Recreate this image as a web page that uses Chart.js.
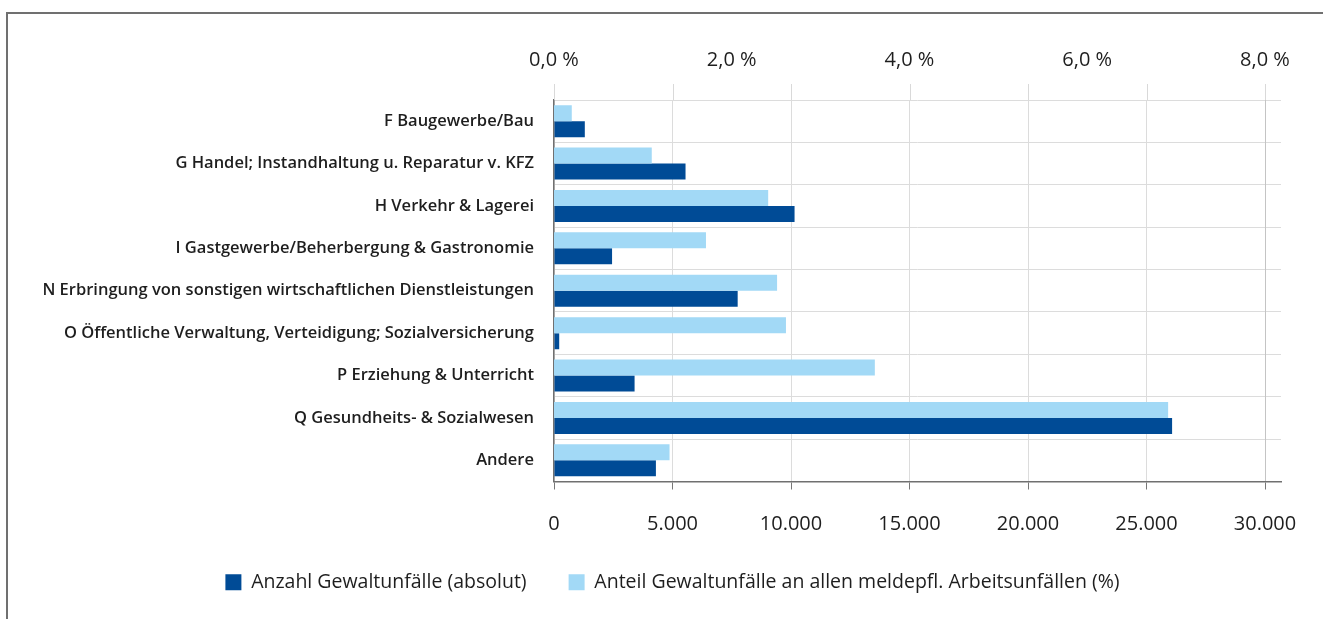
<!DOCTYPE html>
<html>
<head>
<meta charset="utf-8">
<script src="https://cdn.jsdelivr.net/npm/chart.js@4.4.1/dist/chart.umd.min.js"></script>
<style>
  body { margin: 0; background: #fff; }
  #frame { position: absolute; left: 6px; top: 12px; right: 0; bottom: 0; border-left: 2px solid #707070; border-top: 2px solid #707070; }
  #wrap { position: absolute; left: 0; top: 0; width: 1323px; height: 619px; }
</style>
</head>
<body>
<div id="frame"></div>
<div id="wrap"><canvas id="chart" width="1323" height="619"></canvas></div>
<script>
const categories = [
  "F Baugewerbe/Bau",
  "G Handel; Instandhaltung u. Reparatur v. KFZ",
  "H Verkehr & Lagerei",
  "I Gastgewerbe/Beherbergung & Gastronomie",
  "N Erbringung von sonstigen wirtschaftlichen Dienstleistungen",
  "O Öffentliche Verwaltung, Verteidigung; Sozialversicherung",
  "P Erziehung & Unterricht",
  "Q Gesundheits- & Sozialwesen",
  "Andere"
];
// Anzahl Gewaltunfälle (absolut)
const absolut = [1300, 5550, 10150, 2450, 7750, 220, 3400, 26080, 4300];
// Anteil an allen meldepflichtigen Arbeitsunfällen (%)
const anteil = [0.20, 1.10, 2.41, 1.71, 2.51, 2.61, 3.61, 6.91, 1.30];

const absTicks = [0, 5000, 10000, 15000, 20000, 25000, 30000];
const pctTicks = [0, 2, 4, 6, 8];

const dark = "#004b96";
const light = "#a2d9f6";
const font = "'Open Sans', sans-serif";

const tweaks = {
  id: "tweaks",
  afterLayout(chart) {
    // legend sits a bit right of centre and closer to the axis in the original
    const lg = chart.legend;
    lg.left += 32;
    lg.right += 32;
    lg.top -= 11;
    lg.bottom -= 11;
  },
  // lines above the plot area, continuing the vertical grid
  beforeDatasetsDraw(chart) {
    const { ctx, chartArea, scales } = chart;
    ctx.save();
    ctx.strokeStyle = "#d9d9d9";
    ctx.lineWidth = 1;
    scales.x.ticks.forEach(t => {
      const x = Math.round(scales.x.getPixelForValue(t.value)) + 0.5;
      ctx.beginPath();
      ctx.moveTo(x, chartArea.top - 16);
      ctx.lineTo(x, chartArea.top);
      ctx.stroke();
    });
    ctx.restore();
  }
};

new Chart(document.getElementById("chart"), {
  type: "bar",
  data: {
    labels: categories,
    datasets: [
      {
        label: "Anteil Gewaltunfälle an allen meldepfl. Arbeitsunfällen (%)",
        data: anteil,
        backgroundColor: light,
        xAxisID: "x2",
        categoryPercentage: 0.755,
        barPercentage: 1
      },
      {
        label: "Anzahl Gewaltunfälle (absolut)",
        data: absolut,
        backgroundColor: dark,
        xAxisID: "x",
        categoryPercentage: 0.755,
        barPercentage: 1
      }
    ]
  },
  options: {
    indexAxis: "y",
    responsive: false,
    animation: false,
    layout: { padding: { left: 0, right: 42, top: 0, bottom: 6 } },
    plugins: {
      tooltip: { enabled: false },
      legend: {
        position: "bottom",
        labels: {
          font: { family: font, size: 19.5 },
          color: "#1e1e1e",
          boxWidth: 16,
          boxHeight: 16,
          padding: 42,
          sort: (a, b) => b.datasetIndex - a.datasetIndex
        }
      }
    },
    scales: {
      y: {
        afterFit: s => { s.width = 554; },
        grid: { color: "#dcdcdc", drawTicks: false, offset: true },
        border: { color: "#707070", width: 1.5 },
        ticks: { font: { family: font, size: 16.5, weight: "600" }, color: "#1e1e1e", padding: 20 }
      },
      x: {
        position: "bottom",
        min: 0,
        max: 30000 * 727 / 711,
        afterBuildTicks: s => { s.ticks = absTicks.map(v => ({ value: v })); },
        afterFit: s => { s.height = 60; },
        grid: { color: (c) => c.tick && c.tick.value === 30000 ? "#c4c4c4" : "#dcdcdc", tickColor: "#777", tickLength: 8 },
        border: { color: "#707070", width: 1.5 },
        ticks: {
          font: { family: font, size: 20 },
          color: "#1e1e1e",
          padding: 23,
          maxRotation: 0,
          callback: v => v.toLocaleString("de-DE")
        }
      },
      x2: {
        position: "top",
        min: 0,
        max: 8 * 727 / 711,
        afterBuildTicks: s => { s.ticks = pctTicks.map(v => ({ value: v })); },
        afterFit: s => { s.height = 100; },
        grid: { display: false, drawTicks: false },
        border: { display: false },
        ticks: {
          font: { family: font, size: 20 },
          color: "#1e1e1e",
          padding: 28,
          maxRotation: 0,
          callback: v => v.toFixed(1).replace(".", ",") + " %"
        }
      }
    }
  },
  plugins: [tweaks]
});
</script>
</body>
</html>
